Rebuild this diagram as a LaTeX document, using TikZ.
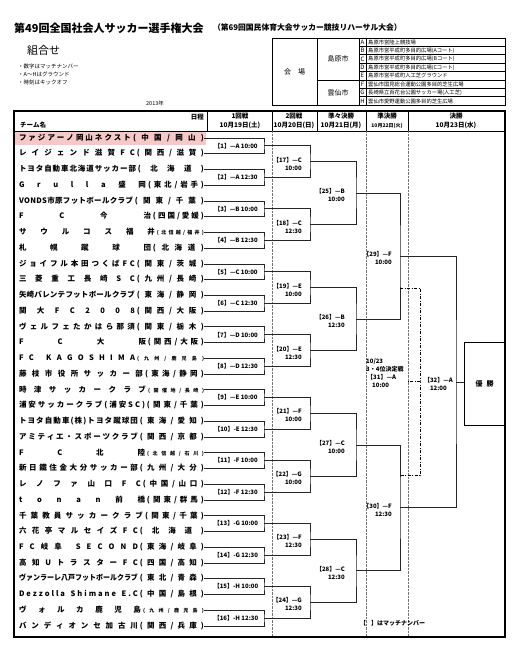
\documentclass[tikz,border=0pt]{standalone}
\usepackage{fontspec}
\setmainfont{Noto Sans CJK JP}
\usepackage{graphicx}
\usetikzlibrary{positioning, calc}
\definecolor{hlpink}{RGB}{246,200,200}

% spread the tokens of a name evenly across its box
\makeatletter
\def\sprd#1{\sprd@#1\@nil}
\def\sprd@#1#2\@nil{#1\ifx\@nil#2\@nil\else\hfill\sprd@#2\@nil\fi}
\newcommand\tm@[4]{%
  \sbox\z@{#2}%
  \ifdim\wd\z@>#1pt\relax\resizebox{#1pt}{\height}{#2}\else\makebox[#1pt][s]{\sprd{#2}}\fi
  \hspace{2pt}%
  \makebox[\dimexpr183pt-#1pt\relax][s]{#4\sprd{#3}}}
\newcommand\tm[3][119]{\tm@{#1}{#2}{#3}{}}
\newcommand\tms[3][119]{\tm@{#1}{#2}{#3}{\fontsize{5}{6}\selectfont}}
\makeatother

\begin{document}
\begin{tikzpicture}[x=1pt, y=-1pt,
    tm/.style     = {inner sep=0pt, outer sep=0pt, text height=6pt, text depth=1.5pt,
                     minimum height=15.74pt, font=\fontsize{7.5}{8}\selectfont\bfseries},
    mlbl/.style   = {inner sep=0pt, font=\fontsize{6}{6}\selectfont\bfseries},
    rlbl/.style   = {inner sep=0pt, align=right, font=\fontsize{6}{8}\selectfont\bfseries},
    hd/.style     = {inner sep=0pt, font=\fontsize{6.5}{7}\selectfont\bfseries},
    venue/.style  = {inner sep=0pt, font=\fontsize{5.3}{6}\selectfont},
    ln/.style     = {line width=0.8pt, draw=black!85},
    thrd/.style   = {line width=1pt, dash pattern=on 3pt off 1.5pt on 1pt off 1.5pt},
    colline/.style= {densely dotted, draw=black!55, line width=0.4pt},
    frame/.style  = {line width=1.2pt},
  ]
  \useasboundingbox (0,0) rectangle (512,650);

  % title block
  \node[inner sep=0pt, anchor=west, font=\fontsize{11}{12}\selectfont\bfseries] (title) at (14,28) {第49回全国社会人サッカー選手権大会};
  \node[inner sep=0pt, right=9pt of title, font=\fontsize{7.8}{8}\selectfont\bfseries] (sub) {（第69回国民体育大会サッカー競技リハーサル大会）};
  \node[inner sep=0pt, anchor=west, font=\fontsize{11}{12}\selectfont] (kumi) at (27,50) {組合せ};
  \node[inner sep=0pt, anchor=north west, align=left, font=\fontsize{5.5}{8}\selectfont] (notes) at (18,64) {・数字はマッチナンバー\\・A～Hはグラウンド\\・時刻はキックオフ};
  \node[inner sep=0pt, font=\fontsize{5.5}{6}\selectfont] (year) at (155,103) {2013年};

  % venue table
  \draw[line width=0.6pt] (272,38) rectangle (505,105.2);
  \draw[line width=0.6pt] (317,38) -- (317,105.2);
  \draw[line width=0.6pt] (359,38) -- (359,105.2);
  \draw[line width=0.6pt] (366,38) -- (366,105.2);
  \draw[line width=0.6pt] (317,80) -- (359,80);
  \foreach \i in {1,...,7} \draw[line width=0.6pt] (359,38+8.4*\i) -- (505,38+8.4*\i);
  \node[venue, font=\fontsize{7}{8}\selectfont] (vh) at (294.5,71.6) {会\hspace{7pt}場};
  \node[venue, font=\fontsize{7}{8}\selectfont] (vs) at (338,59) {島原市};
  \node[venue, font=\fontsize{7}{8}\selectfont] (vu) at (338,92.6) {雲仙市};
  \foreach \g/\v [count=\i] in {A/島原市営陸上競技場, B/島原市営平成町多目的広場(Aコート),
      C/島原市営平成町多目的広場(Bコート), D/島原市営平成町多目的広場(Cコート),
      E/島原市営平成町人工芝グラウンド, F/雲仙市国見総合運動公園多目的芝生広場,
      G/長崎県立百花台公園サッカー場(人工芝), H/雲仙市愛野運動公園多目的芝生広場}
    {\node[venue, font=\fontsize{6}{6}\selectfont] (g\i) at (362.5,33.8+8.4*\i) {\g};
     \node[venue, anchor=west] (v\i) at (368,33.8+8.4*\i) {\v};}

  % bracket frame and header
  \fill[hlpink] (14.6,131) rectangle (206,145);
  \draw[line width=0.6pt] (14,131) -- (505,131);
  \foreach \x in {207,272,317,366,408} \draw[line width=0.6pt] (\x,111) -- (\x,131);
  \foreach \x in {272,366,408} \draw[colline] (\x,131) -- (\x,636);
  \node[hd, anchor=east] (hday) at (204,117) {日程};
  \node[hd, anchor=west] (hteam) at (20,125.5) {チーム名};
  \node[hd] (h1) at (240,116) {1回戦};
  \node[hd] (d1) at (240,125.5) {10月19日(土)};
  \node[hd] (h2) at (294,116) {2回戦};
  \node[hd] (d2) at (294,125.5) {10月20日(日)};
  \node[hd] (h3) at (341,116) {準々決勝};
  \node[hd] (d3) at (341,125.5) {10月21日(月)};
  \node[hd] (h4) at (387,116) {準決勝};
  \node[hd, font=\fontsize{5}{6}\selectfont\bfseries] (d4) at (387,125.5) {10月22日(火)};
  \node[hd] (h5) at (456,116) {決勝};
  \node[hd] (d5) at (456,125.5) {10月23日(水)};

  % teams
  \node[tm, anchor=west] (t1) at (19,138) {\tm[112]{ファジアーノ岡山ネクスト}{(中国/岡山)}};
  \node[tm, below=0pt of t1] (t2) {\tm[116]{レイジェンド滋賀FC}{(関西/滋賀)}};
  \node[tm, below=0pt of t2] (t3) {\tm[117]{トヨタ自動車北海道サッカー部}{(北海道)}};
  \node[tm, below=0pt of t3] (t4) {\tm[127]{Grulla盛岡}{(東北/岩手)}};
  \node[tm, below=0pt of t4] (t5) {\tm[114]{VONDS市原フットボールクラブ}{(関東/千葉)}};
  \node[tm, below=0pt of t5] (t6) {\tm[132]{FC今治}{(四国/愛媛)}};
  \node[tm, below=0pt of t6] (t7) {\tms[136]{サウルコス福井}{(北信越/福井)}};
  \node[tm, below=0pt of t7] (t8) {\tm[132]{札幌蹴球団}{(北海道)}};
  \node[tm, below=0pt of t8] (t9) {\tm[116]{ジョイフル本田つくばFC}{(関東/茨城)}};
  \node[tm, below=0pt of t9] (t10) {\tm[116]{三菱重工長崎SC}{(九州/長崎)}};
  \node[tm, below=0pt of t10] (t11) {\tm[116]{矢崎バレンテフットボールクラブ}{(東海/静岡)}};
  \node[tm, below=0pt of t11] (t12) {\tm[116]{関大FC2008}{(関西/大阪)}};
  \node[tm, below=0pt of t12] (t13) {\tm[116]{ヴェルフェたかはら那須}{(関東/栃木)}};
  \node[tm, below=0pt of t13] (t14) {\tm[127]{FC大阪}{(関西/大阪)}};
  \node[tm, below=0pt of t14] (t15) {\tms[116]{FC{ }KAGOSHIMA}{(九州/鹿児島)}};
  \node[tm, below=0pt of t15] (t16) {\tm[124]{藤枝市役所サッカー部}{(東海/静岡)}};
  \node[tm, below=0pt of t16] (t17) {\tms[127]{時津サッカークラブ}{(開催地/長崎)}};
  \node[tm, below=0pt of t17] (t18) {\tm[126]{浦安サッカークラブ(浦安SC)}{(関東/千葉)}};
  \node[tm, below=0pt of t18] (t19) {\tm{トヨタ自動車(株)トヨタ蹴球団}{(東海/愛知)}};
  \node[tm, below=0pt of t19] (t20) {\tm{アミティエ・スポーツクラブ}{(関西/京都)}};
  \node[tm, below=0pt of t20] (t21) {\tms[126]{FC北陸}{(北信越/石川)}};
  \node[tm, below=0pt of t21] (t22) {\tm{新日鐵住金大分サッカー部}{(九州/大分)}};
  \node[tm, below=0pt of t22] (t23) {\tm[122]{レノファ山口FC}{(中国/山口)}};
  \node[tm, below=0pt of t23] (t24) {\tm[126]{tonan前橋}{(関東/群馬)}};
  \node[tm, below=0pt of t24] (t25) {\tm[124]{千葉教員サッカークラブ}{(関東/千葉)}};
  \node[tm, below=0pt of t25] (t26) {\tm{六花亭マルセイズFC}{(北海道)}};
  \node[tm, below=0pt of t26] (t27) {\tm{FC岐阜{ }SECOND}{(東海/岐阜)}};
  \node[tm, below=0pt of t27] (t28) {\tm{高知UトラスターFC}{(四国/高知)}};
  \node[tm, below=0pt of t28] (t29) {\tm{ヴァンラーレ八戸フットボールクラブ}{(東北/青森)}};
  \node[tm, below=0pt of t29] (t30) {\tm{Dezzolla{ }Shimane{ }E.C}{(中国/島根)}};
  \node[tm, below=0pt of t30] (t31) {\tms[122]{ヴォルカ鹿児島}{(九州/鹿児島)}};
  \node[tm, below=0pt of t31] (t32) {\tm{バンディオンセ加古川}{(関西/兵庫)}};

  % bracket lines
  \foreach \k [evaluate=\k as \a using {int(2*\k-1)}, evaluate=\k as \b using {int(2*\k)}] in {1,...,16}
    {\coordinate (m\k) at ($(t\a.east)!.5!(t\b.east)+(60,0)$);
     \draw[ln] (t\a.east) -| (m\k) |- (t\b.east);}
  \foreach \k [evaluate=\k as \a using {int(2*\k-33)}, evaluate=\k as \b using {int(2*\k-32)},
               evaluate=\k as \dx using {\k<29 ? 46 : 44}] in {17,...,30}
    {\coordinate (m\k) at ($(m\a)!.5!(m\b)+(\dx,0)$);
     \draw[ln] (m\a) -| (m\k) |- (m\b);}
  \coordinate (m32) at ($(m29)!.5!(m30)+(56,0)$);
  \draw[ln] (m29) -| (m32) |- (m30);

  % 3rd place play-off
  \coordinate (m31) at ($(m29)!.5!(m30)+(20,0)$);
  \coordinate (s1) at ($(m29)+(0,32)$);
  \coordinate (s2) at ($(m30)+(0,-32)$);
  \coordinate (m31l) at ($(m31)+(-12,0)$);
  \draw[thrd] (s1) -| (m31) |- (s2);
  \draw[thrd] (m31) -- (m31l);

  % match labels
  \foreach \k/\g/\kt in {1/A/10:00, 2/A/12:30, 3/B/10:00, 4/B/12:30, 5/C/10:00, 6/C/12:30,
      7/D/10:00, 8/D/12:30, 9/E/10:00, 10/E/12:30, 11/F/10:00, 12/F/12:30,
      13/G/10:00, 14/G/12:30, 15/H/10:00, 16/H/12:30}
    {\node[mlbl] (l\k) at ($(m\k)+(-28,0)$) {【\k】\ifnum\k<10 —\else -\fi\g\ \kt};}
  \foreach \k/\g/\kt/\d in {17/C/10:00/8, 18/C/12:30/8, 19/E/10:00/8, 20/E/12:30/8,
      21/F/10:00/8, 22/G/10:00/8, 23/F/12:30/8, 24/G/12:30/8,
      25/B/10:00/11, 26/B/12:30/11, 27/C/10:00/11, 28/C/12:30/11,
      29/F/10:00/8, 30/F/12:30/8}
    {\node[rlbl, left=\d pt of m\k, yshift=-2pt] (l\k) {【\k】—\g\\\kt};}
  \node[rlbl, align=center, left=3pt of m32, yshift=-2pt] (l32) {【32】—A\\12:00};
  \node[rlbl, align=left, anchor=north west] (l31) at ($(m31)+(-54,-24)$)
    {10/23\\3・4位決定戦\\\hspace{1pt}【31】—A\\\hspace{6pt}10:00};

  % champion
  \node[draw, line width=1pt, minimum width=41pt, minimum height=83pt, inner sep=0pt,
        font=\fontsize{7}{8}\selectfont\bfseries] (win) at (484.5,383.5) {優\hspace{4pt}勝};
  \draw[ln] (m32) -- (m32 -| win.west);

  \node[mlbl, anchor=west] (mnote) at (360,623) {【\hspace{5pt}】はマッチナンバー};
  \draw[frame] (14,111) rectangle (505,637);
\end{tikzpicture}
\end{document}
